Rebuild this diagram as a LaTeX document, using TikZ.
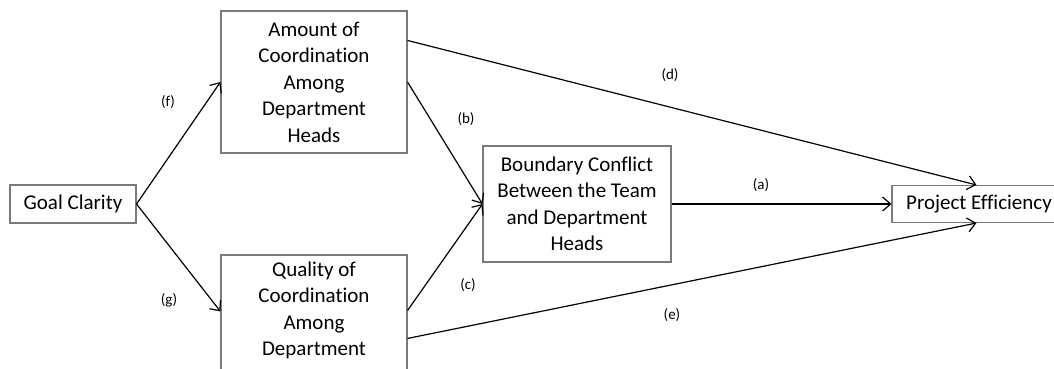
\documentclass[tikz,border=0pt]{standalone}
\usepackage{fontspec}
\setmainfont{Carlito}[Ligatures={NoCommon}]
\usetikzlibrary{arrows.meta,calc}
\definecolor{boxgray}{HTML}{7A7A7A}
\begin{document}
\begin{tikzpicture}[x=1pt,y=-1pt,
  box/.style={draw=boxgray, line width=1.1pt, fill=white, inner sep=0pt,
    align=center, font=\fontsize{21}{26.5}\selectfont},
  link/.style={draw=black, line width=1.2pt,
    -{Straight Barb[length=8pt,width=14pt,line width=1.2pt]}},
  tag/.style={font=\fontsize{15}{18}\selectfont, inner sep=0pt}]
\useasboundingbox (0,0) rectangle (1054,369);
\clip (0,0) rectangle (1054,369);

% variables of the model
\node[box, minimum width=126pt, minimum height=38pt] (goal) at (73,204) {Goal Clarity};
\node[box, minimum width=186pt, minimum height=142pt] (amount) at (314,82)
  {Amount of\\Coordination\\Among\\Department\\Heads};
\node[box, minimum width=186pt, minimum height=142pt] (qual) at (314,326)
  {Quality of\\Coordination\\Among\\Department\\\strut};
\node[box, minimum width=188pt, minimum height=116pt] (bound) at (577,204)
  {Boundary Conflict\\Between the Team\\and Department\\Heads};
\node[box, minimum width=174pt, minimum height=37pt] (proj) at (979,204) {Project Efficiency};

% paths between them
\draw[link] (goal.east) -- (amount.west);
\draw[link] (goal.east) -- ($(qual.north west)+(0pt,-57pt)$);
\draw[link] ($(amount.north east)+(0pt,-30pt)$) -- ($(proj.north west)+(85pt,0pt)$);
\draw[link] (amount.east) -- (bound.west);
\draw[link] ($(qual.north east)+(0pt,-56pt)$) -- (bound.west);
\draw[link] ($(qual.north east)+(0pt,-84pt)$) -- ($(proj.south west)+(85pt,0pt)$);
\draw[link] (bound.east) -- (proj.west);

% path labels
\node[tag] (tf) at (168,102) {(f)};
\node[tag] (tg) at (169,300) {(g)};
\node[tag] (td) at (670,75) {(d)};
\node[tag] (tb) at (466,119) {(b)};
\node[tag] (tc) at (468,285) {(c)};
\node[tag] (ta) at (761,185) {(a)};
\node[tag] (te) at (672,315) {(e)};
\end{tikzpicture}
\end{document}
